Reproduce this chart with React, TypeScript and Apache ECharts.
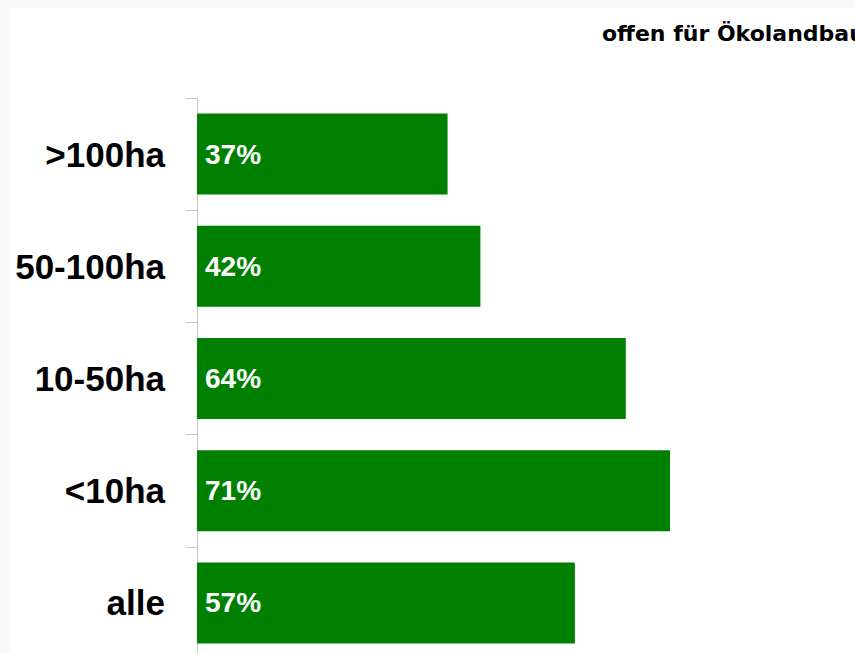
import React, { useEffect, useRef } from "react";
import * as echarts from "echarts";

const categories = ["alle", "<10ha", "10-50ha", "50-100ha", ">100ha"];
const values = [56.4, 70.6, 64.0, 42.3, 37.4];
const valueLabels = ["57%", "71%", "64%", "42%", "37%"];
const seriesName = "offen für Ökolandbau";

export default function App() {
  const ref = useRef<HTMLDivElement>(null);
  useEffect(() => {
    if (!ref.current) return;
    const chart = echarts.init(ref.current, undefined, { renderer: "svg" });
    chart.setOption({
      animation: false,
      backgroundColor: "#ffffff",
      graphic: [
        {
          type: "text",
          left: 592,
          top: 14,
          style: {
            text: seriesName,
            fill: "#000000",
            font: "bold 22px 'DejaVu Sans', sans-serif",
          },
        },
      ],
      grid: { left: 187, top: 90, width: 636.5, height: 561, containLabel: false },
      xAxis: {
        type: "value",
        min: 0,
        max: 95,
        show: false,
      },
      yAxis: {
        type: "category",
        data: categories,
        axisLine: { show: true, lineStyle: { color: "#c8c8c8", width: 1 } },
        axisTick: { show: true, length: 11, lineStyle: { color: "#c8c8c8", width: 1 } },
        axisLabel: {
          margin: 32,
          color: "#000000",
          fontFamily: "'Liberation Sans', Arial, sans-serif",
          fontWeight: "bold",
          fontSize: 35,
        },
        splitLine: { show: false },
      },
      series: [
        {
          name: seriesName,
          type: "bar",
          data: values,
          barWidth: 81,
          itemStyle: { color: "#008000" },
          label: {
            show: true,
            position: "insideLeft",
            distance: 8,
            color: "#ffffff",
            fontFamily: "'Liberation Sans', Arial, sans-serif",
            fontWeight: "bold",
            fontSize: 28,
            formatter: (p: any) => valueLabels[p.dataIndex],
          },
        },
      ],
    });
    return () => chart.dispose();
  }, []);
  return (
    <div style={{ position: "fixed", left: 0, top: 0, right: 0, bottom: 0, background: "#f9f9f9", overflow: "hidden" }}>
      <div ref={ref} style={{ position: "absolute", left: 10, top: 8, width: 845, height: 665 }} />
    </div>
  );
}
